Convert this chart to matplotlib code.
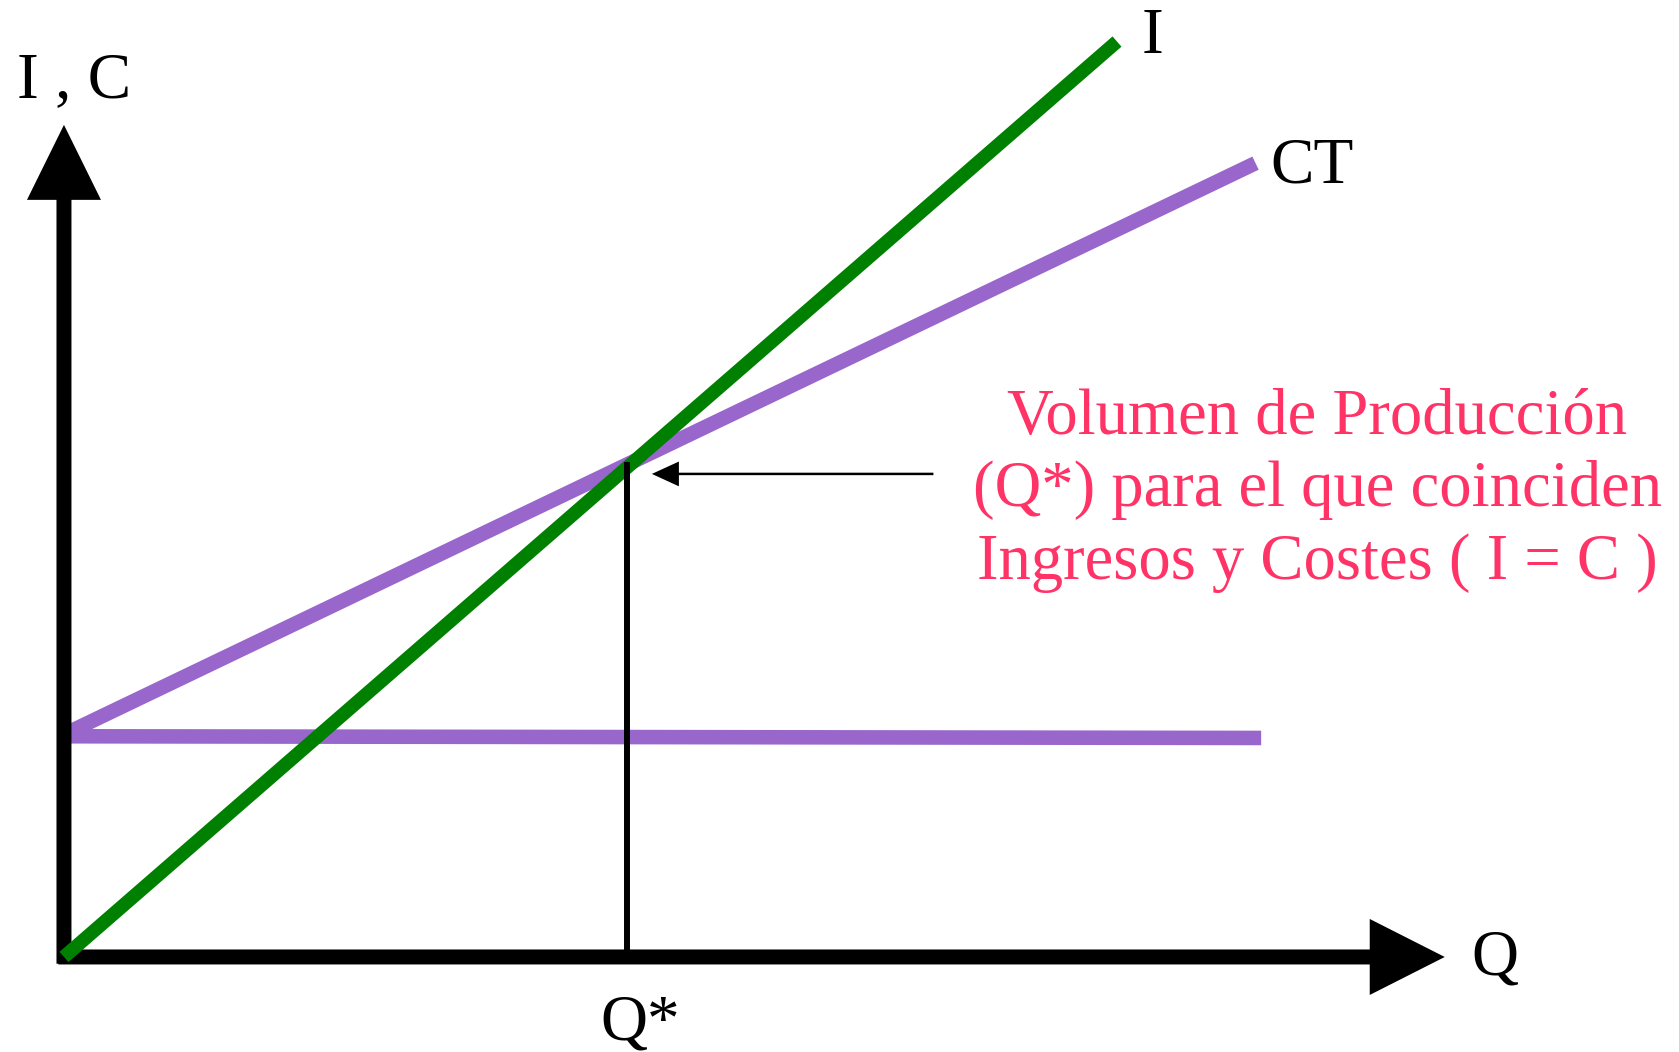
import matplotlib
matplotlib.use("Agg")
import matplotlib.pyplot as plt

# ---- data (abstract units; origin at the corner of the axes) ----
ingresos_q = [0.0, 9.35]
ingresos_v = [0.0, 8.13]
costes_q = [0.05, 10.58]
costes_v = [2.00, 7.05]
fijos_q = [0.05, 10.63]
fijos_v = [1.96, 1.945]
q_star = 5.0
q_star_v = 4.40

x_axis_end = 12.26
y_axis_end = 7.39

note_lines = ["Volumen de Producción",
              "(Q*) para el que coinciden",
              "Ingresos y Costes ( I = C )"]

W, H, DPI = 16.79, 10.52, 100
fig = plt.figure(figsize=(W, H), dpi=DPI)
ax = fig.add_axes([0, 0, 1, 1])
ax.set_xlim(-0.568, 14.34)
ax.set_ylim(-0.844, 8.499)
ax.axis("off")

serif = "Liberation Serif"
GREEN = "#008000"
PURPLE = "#9966CC"
PINK = "#FF3366"

# axes arrows
ax.arrow(-0.05, 0, x_axis_end + 0.05, 0, width=0.133, head_width=0.675,
         head_length=0.666, length_includes_head=True, color="black", lw=0, zorder=3)
ax.arrow(0, -0.06, 0, y_axis_end + 0.06, width=0.133, head_width=0.657,
         head_length=0.666, length_includes_head=True, color="black", lw=0, zorder=3)

# curves
ax.plot(fijos_q, fijos_v, color=PURPLE, lw=10.5, solid_capstyle="butt", zorder=2)
ax.plot(costes_q, costes_v, color=PURPLE, lw=10.5, solid_capstyle="butt", zorder=2)
ax.plot(ingresos_q, ingresos_v, color=GREEN, lw=9.8, solid_capstyle="butt", zorder=4)

# Q* line
ax.plot([q_star, q_star], [0, q_star_v], color="black", lw=4.3,
        solid_capstyle="butt", zorder=5)

# pointer arrow
ax.arrow(7.72, 4.29, 5.22 - 7.72, 0, width=0.022, head_width=0.22,
         head_length=0.24, length_includes_head=True, color="black", lw=0, zorder=5)

# labels
fs = 47
ax.text(-0.417, 7.638, "I , C", fontsize=fs, family=serif, ha="left", va="baseline")
ax.text(9.57, 8.03, "I", fontsize=fs, family=serif, ha="left", va="baseline")
ax.text(10.71, 6.874, "CT", fontsize=fs, family=serif, ha="left", va="baseline")
ax.text(12.50, -0.16, "Q", fontsize=fs, family=serif, ha="left", va="baseline")
ax.text(4.76, -0.735, "Q*", fontsize=fs, family=serif, ha="left", va="baseline")

baselines = [4.645, 4.005, 3.357]
for line, yb in zip(note_lines, baselines):
    ax.text(11.13, yb, line, fontsize=46.5, family=serif, color=PINK,
            ha="center", va="baseline")

fig.savefig("out.png", dpi=DPI)
